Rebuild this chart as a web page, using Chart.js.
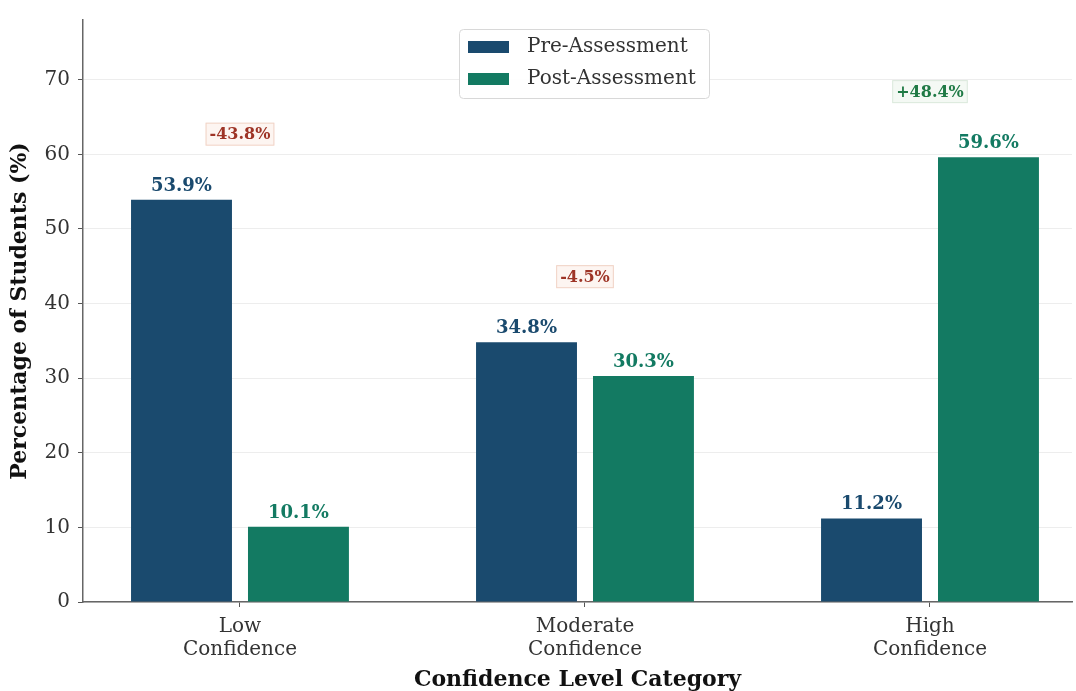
<!DOCTYPE html>
<html>
<head>
<meta charset="utf-8">
<script src="https://cdn.jsdelivr.net/npm/chart.js@4.4.1/dist/chart.umd.min.js"></script>
<style>
  html, body { margin: 0; padding: 0; background: #fff; }
  #wrap { width: 1076px; height: 691px; }
</style>
</head>
<body>
<div id="wrap"><canvas id="chart" width="1076" height="691"></canvas></div>
<script>
// data
const categories = [['Low', 'Confidence'], ['Moderate', 'Confidence'], ['High', 'Confidence']];
const preValues = [53.9, 34.8, 11.2];
const postValues = [10.1, 30.3, 59.6];
const yTicks = [0, 10, 20, 30, 40, 50, 60, 70];

const preColor = '#1a4a6e';
const postColor = '#137a62';
const serif = "'DejaVu Serif', 'Liberation Serif', serif";

// value labels above bars + change boxes
const labelPlugin = {
    id: 'labels',
    afterDatasetsDraw(chart) {
        const ctx = chart.ctx;
        const y = chart.scales.y;
        ctx.save();
        ctx.font = `bold 18px ${serif}`;
        ctx.textAlign = 'center';
        ctx.textBaseline = 'alphabetic';
        chart.data.datasets.forEach((ds, i) => {
            chart.getDatasetMeta(i).data.forEach((bar, j) => {
                ctx.fillStyle = ds.backgroundColor;
                ctx.fillText(ds.data[j].y.toFixed(1) + '%', bar.x, bar.y - 9);
            });
        });

        // change between pre and post
        ctx.font = `bold 16px ${serif}`;
        ctx.textBaseline = 'middle';
        preValues.forEach((pre, j) => {
            const diff = postValues[j] - pre;
            const text = (diff >= 0 ? '+' : '') + diff.toFixed(1) + '%';
            const cx = chart.scales.x.getPixelForValue(j);
            const cy = y.getPixelForValue(Math.max(pre, postValues[j]) + 8.8);
            const w = ctx.measureText(text).width + 8;
            const h = 23;
            ctx.fillStyle = diff >= 0 ? '#f4f9f4' : '#fdf5f1';
            ctx.strokeStyle = diff >= 0 ? '#dbe9dc' : '#f1d3c6';
            ctx.lineWidth = 1;
            ctx.fillRect(cx - w / 2, cy - h / 2, w, h);
            ctx.strokeRect(cx - w / 2 + 0.5, cy - h / 2 + 0.5, w - 1, h - 1);
            ctx.fillStyle = diff >= 0 ? '#1f7a45' : '#9e3426';
            ctx.fillText(text, cx, cy + 1);
        });
        ctx.restore();
    },
    afterDraw(chart) {
        // legend box inside the plot
        const ctx = chart.ctx;
        const x0 = 459, y0 = 29, w = 250, h = 69;
        ctx.save();
        ctx.fillStyle = 'rgba(255,255,255,0.9)';
        ctx.strokeStyle = '#d8d8d8';
        ctx.lineWidth = 1;
        ctx.beginPath();
        ctx.roundRect(x0 + 0.5, y0 + 0.5, w, h, 4);
        ctx.fill();
        ctx.stroke();
        ctx.font = `20px ${serif}`;
        ctx.textBaseline = 'middle';
        ctx.textAlign = 'left';
        chart.data.datasets.forEach((ds, i) => {
            const cy = y0 + 18 + i * 32;
            ctx.fillStyle = ds.backgroundColor;
            ctx.fillRect(x0 + 9, cy - 6, 41, 12);
            ctx.fillStyle = '#333';
            ctx.fillText(ds.label, x0 + 68, cy);
        });
        ctx.restore();
    }
};

new Chart(document.getElementById('chart'), {
    type: 'bar',
    data: {
        datasets: [
            {
                label: 'Pre-Assessment',
                data: preValues.map((v, i) => ({ x: i, y: v })),
                backgroundColor: preColor,
                categoryPercentage: 0.678,
                barPercentage: 0.863
            },
            {
                label: 'Post-Assessment',
                data: postValues.map((v, i) => ({ x: i, y: v })),
                backgroundColor: postColor,
                categoryPercentage: 0.678,
                barPercentage: 0.863
            }
        ]
    },
    options: {
        responsive: false,
        animation: false,
        layout: { padding: { left: 0, top: 20, right: 4, bottom: 0 } },
        plugins: {
            legend: { display: false },
            tooltip: { enabled: false }
        },
        scales: {
            x: {
                type: 'linear',
                min: -0.455,
                max: 2.4116,
                offset: false,
                afterBuildTicks: s => { s.ticks = categories.map((c, i) => ({ value: i })); },
                afterFit: s => { s.height = 89; },
                ticks: {
                    callback: v => categories[v],
                    font: { family: serif, size: 20, lineHeight: 1.15 },
                    color: '#333',
                    padding: 8,
                    maxRotation: 0,
                    autoSkip: false
                },
                grid: { offset: false, drawOnChartArea: false, tickLength: 5, tickColor: '#555' },
                border: { color: '#666', width: 1.5 },
                title: {
                    display: true,
                    text: 'Confidence Level Category',
                    font: { family: serif, size: 22, weight: 'bold', lineHeight: 1 },
                    color: '#111',
                    padding: { top: 0, bottom: 0 }
                }
            },
            y: {
                min: 0,
                max: 78,
                afterBuildTicks: s => { s.ticks = yTicks.map(v => ({ value: v })); },
                afterFit: s => { s.width = 83; },
                ticks: {
                    font: { family: serif, size: 20 },
                    color: '#333',
                    padding: 8
                },
                grid: { color: 'rgba(0,0,0,0.07)', tickLength: 5, tickColor: '#555' },
                border: { color: '#666', width: 1.5 },
                title: {
                    display: true,
                    text: 'Percentage of Students (%)',
                    font: { family: serif, size: 22, weight: 'bold', lineHeight: 1 },
                    color: '#111',
                    padding: { top: 9, bottom: 0 }
                }
            }
        }
    },
    plugins: [labelPlugin]
});
</script>
</body>
</html>
